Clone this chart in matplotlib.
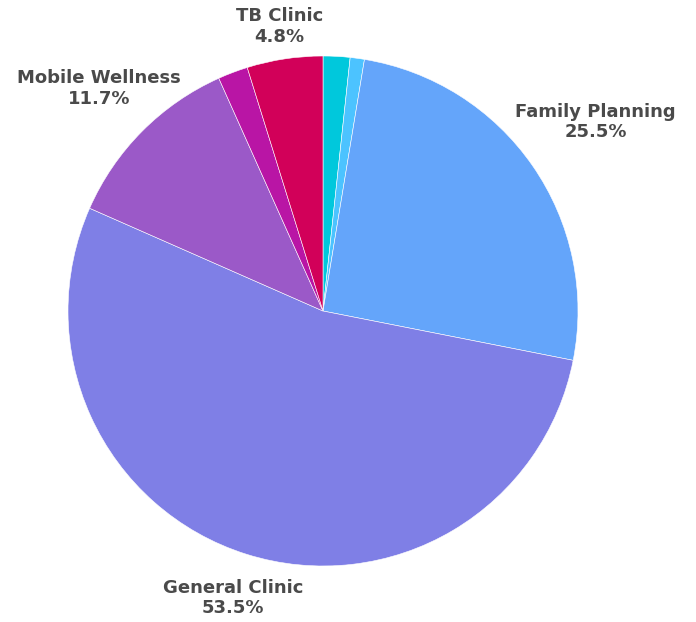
import matplotlib.pyplot as plt
import numpy as np

names = ["Outreach", "School Health", "Family Planning", "General Clinic",
         "Mobile Wellness", "Antenatal", "TB Clinic"]
shares = [1.7, 0.9, 25.5, 53.5, 11.7, 1.9, 4.8]
colors = ["#00c8dc", "#4cc3ff", "#64a5fa", "#7f7fe6", "#9b59c8", "#b915a5", "#d20059"]
shown = ["TB Clinic", "Family Planning", "General Clinic", "Mobile Wellness"]
label_dist = {"TB Clinic": 1.13, "Family Planning": 1.3,
              "General Clinic": 1.18, "Mobile Wellness": 1.24}

fig = plt.figure(figsize=(6.96, 6.22), dpi=100)
ax = fig.add_axes([68 / 696, 56 / 622, 510 / 696, 510 / 622])
wedges, _ = ax.pie(shares, colors=colors, startangle=90, counterclock=False,
                   radius=1, wedgeprops=dict(linewidth=0.4, edgecolor="white"))
ax.set_xlim(-1, 1)
ax.set_ylim(-1, 1)
ax.set_aspect("auto")
ax.axis("off")

total = sum(shares)
for w, name, val in zip(wedges, names, shares):
    if name not in shown:
        continue
    mid = np.deg2rad((w.theta1 + w.theta2) / 2)
    d = label_dist[name]
    ax.text(d * np.cos(mid), d * np.sin(mid),
            f"{name}\n{val / total * 100:.1f}%",
            ha="center", va="center", fontsize=13, fontweight="bold",
            color="#4a4a4a", linespacing=1.2, clip_on=False)

fig.savefig("out.png", dpi=100)
